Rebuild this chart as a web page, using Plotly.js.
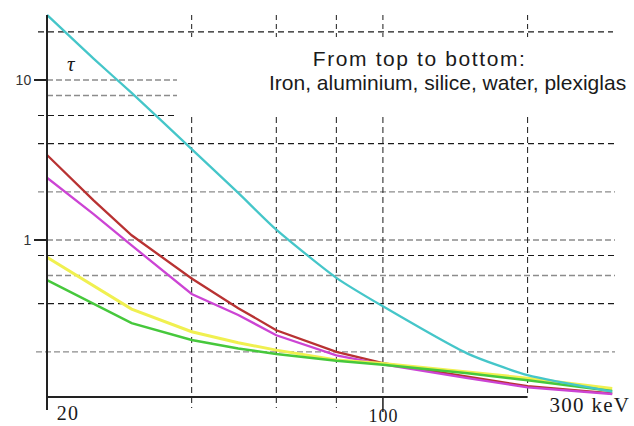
<!DOCTYPE html>
<html>
<head>
<meta charset="utf-8">
<script src="https://cdn.plot.ly/plotly-3.0.1.min.js"></script>
<style>html,body{margin:0;padding:0;background:#fff;}#chart{width:634px;height:426px;}</style>
</head>
<body>
<div id="chart"></div>
<script>
// ---- data (photon energy in keV, attenuation tau) ----
const energy    = [20, 25, 30, 40, 50, 60, 80, 100, 150, 200, 300];
const iron      = [25.5, 13.6, 8.3, 3.7, 1.97, 1.16, 0.58, 0.385, 0.195, 0.143, 0.113];
const aluminium = [3.4, 1.77, 1.07, 0.575, 0.375, 0.273, 0.2, 0.17, 0.14, 0.122, 0.11];
const silice    = [2.45, 1.45, 0.925, 0.46, 0.34, 0.254, 0.19, 0.167, 0.137, 0.12, 0.109];
const water     = [0.78, 0.52, 0.37, 0.267, 0.228, 0.205, 0.178, 0.169, 0.15, 0.137, 0.118];
const plexiglas = [0.562, 0.397, 0.302, 0.237, 0.21, 0.194, 0.176, 0.166, 0.147, 0.133, 0.114];

const xGrid = [40, 60, 80, 100, 200];
const yGrid = [20, 10, 8, 6, 4, 2, 1, 0.8, 0.6, 0.4, 0.2];
const yTickVals = [1, 10];
const yTickText = ['1', '10'];

// ---- layout geometry (pixels) ----
const W = 634, H = 426;
const L = 47, R = 620, T = 12, B = 397;
const pxPerDecadeX = 480.6, pxPerDecadeY = 160;
const xr0 = Math.log10(20), xr1 = xr0 + (R - L) / pxPerDecadeX;
const yr0 = -(B - 240) / pxPerDecadeY, yr1 = (240 - T) / pxPerDecadeY;
const px = v => (v - L) / (R - L);
const py = v => (B - v) / (B - T);

// grid styles
const dark = {color: '#1a1a1a', width: 1.2, dash: '6px,4px'};
const gray = {color: '#8c8c8c', width: 1.3, dash: '6px,3px'};
const yGridStyle = ['d','g','g','d','d','g','g','d','g','d','g'];
const yGridLeft  = [38, 47, 47, 38, 38, 38, 47, 38, 47, 38, 36];
const yGridRight = [613, 177, 177, 177, 615, 615, 615, 615, 615, 615, 615];
const xGridBottom = [408, 408, 408, 397, 397];

const shapes = [];
yGrid.forEach((v, i) => {
  shapes.push({type: 'line', layer: 'below', xref: 'paper', yref: 'y',
    x0: px(yGridLeft[i]), x1: px(yGridRight[i]), y0: v, y1: v,
    line: yGridStyle[i] === 'd' ? dark : gray});
});
xGrid.forEach((v, i) => {
  shapes.push({type: 'line', layer: 'below', xref: 'x', yref: 'paper',
    x0: v, x1: v, y0: py(15), y1: py(37), line: {color: '#1a1a1a', width: 1, dash: '5px,4px'}});
  shapes.push({type: 'line', layer: 'below', xref: 'x', yref: 'paper',
    x0: v, x1: v, y0: py(117), y1: py(xGridBottom[i]), line: {color: '#1a1a1a', width: 1, dash: '6px,4px'}});
});
// solid tick under 100
shapes.push({type: 'line', xref: 'x', yref: 'paper', x0: 100, x1: 100, y0: py(397), y1: py(412),
  line: {color: '#1a1a1a', width: 1.5}});
// x axis line (20 .. 200)
shapes.push({type: 'line', xref: 'x', yref: 'paper', x0: 20, x1: 200, y0: 0, y1: 0,
  line: {color: '#222', width: 2}});
// y axis line
shapes.push({type: 'line', xref: 'paper', yref: 'paper', x0: 0, x1: 0, y0: py(410), y1: py(15),
  line: {color: '#222', width: 2}});

const mk = (y, name, color, w, smooth) => ({
  x: energy, y: y, name: name, type: 'scatter', mode: 'lines',
  line: smooth ? {color: color, width: w, shape: 'spline', smoothing: smooth}
               : {color: color, width: w, shape: 'linear'},
  hoverinfo: 'skip'
});

const data = [
  mk(aluminium, 'Aluminium', '#b83232', 2.3, 0),
  mk(silice, 'Silice', '#cc44d4', 2.3, 0),
  mk(water, 'Water', '#f0f050', 3, 0),
  mk(plexiglas, 'Plexiglas', '#46c83c', 2.5, 0),
  mk(iron, 'Iron', '#45c6c9', 2.3, 0.6)
];

const sansFont = 'Liberation Sans, Arial, sans-serif';
const serifFont = 'Liberation Serif, Times New Roman, serif';

const ann = (text, x, y, font, size) => ({
  text: text, xref: 'paper', yref: 'paper', x: px(x), y: py(y),
  xanchor: 'center', yanchor: 'middle', showarrow: false,
  font: {family: font, size: size, color: '#1a1a1a'}
});

const annotations = [
  ann('From top to bottom:', 419, 58, sansFont, 21),
  ann('Iron, aluminium, silice, water, plexiglas', 447, 83, sansFont, 21),
  ann('<i>τ</i>', 71, 64, serifFont, 21),
  ann('20', 68, 413, serifFont, 20),
  ann('100', 383, 416, serifFont, 18),
  ann('300 keV', 590, 405, serifFont, 21)
];
const letterSpacing = [1.6, 0, 0, 1.2, 1, 1.3];

const layout = {
  width: W, height: H, autosize: false,
  margin: {l: L, r: W - R, t: T, b: H - B, pad: 0},
  paper_bgcolor: '#fff', plot_bgcolor: '#fff',
  showlegend: false,
  xaxis: {type: 'log', range: [xr0, xr1], showgrid: false, zeroline: false, showline: false,
          showticklabels: false, ticks: ''},
  yaxis: {type: 'log', range: [yr0, yr1], showgrid: false, zeroline: false, showline: false,
          tickmode: 'array', tickvals: yTickVals, ticktext: yTickText,
          ticks: 'outside', ticklen: 12, tickwidth: 1.5, tickcolor: '#222',
          tickfont: {family: sansFont, size: 14, color: '#333'}},
  shapes: shapes,
  annotations: annotations
};

Plotly.newPlot('chart', data, layout, {staticPlot: true, displayModeBar: false}).then(gd => {
  const texts = gd.querySelectorAll('.annotation-text');
  texts.forEach((t, i) => {
    if (letterSpacing[i]) t.style.letterSpacing = letterSpacing[i] + 'px';
  });
});
</script>
</body>
</html>
